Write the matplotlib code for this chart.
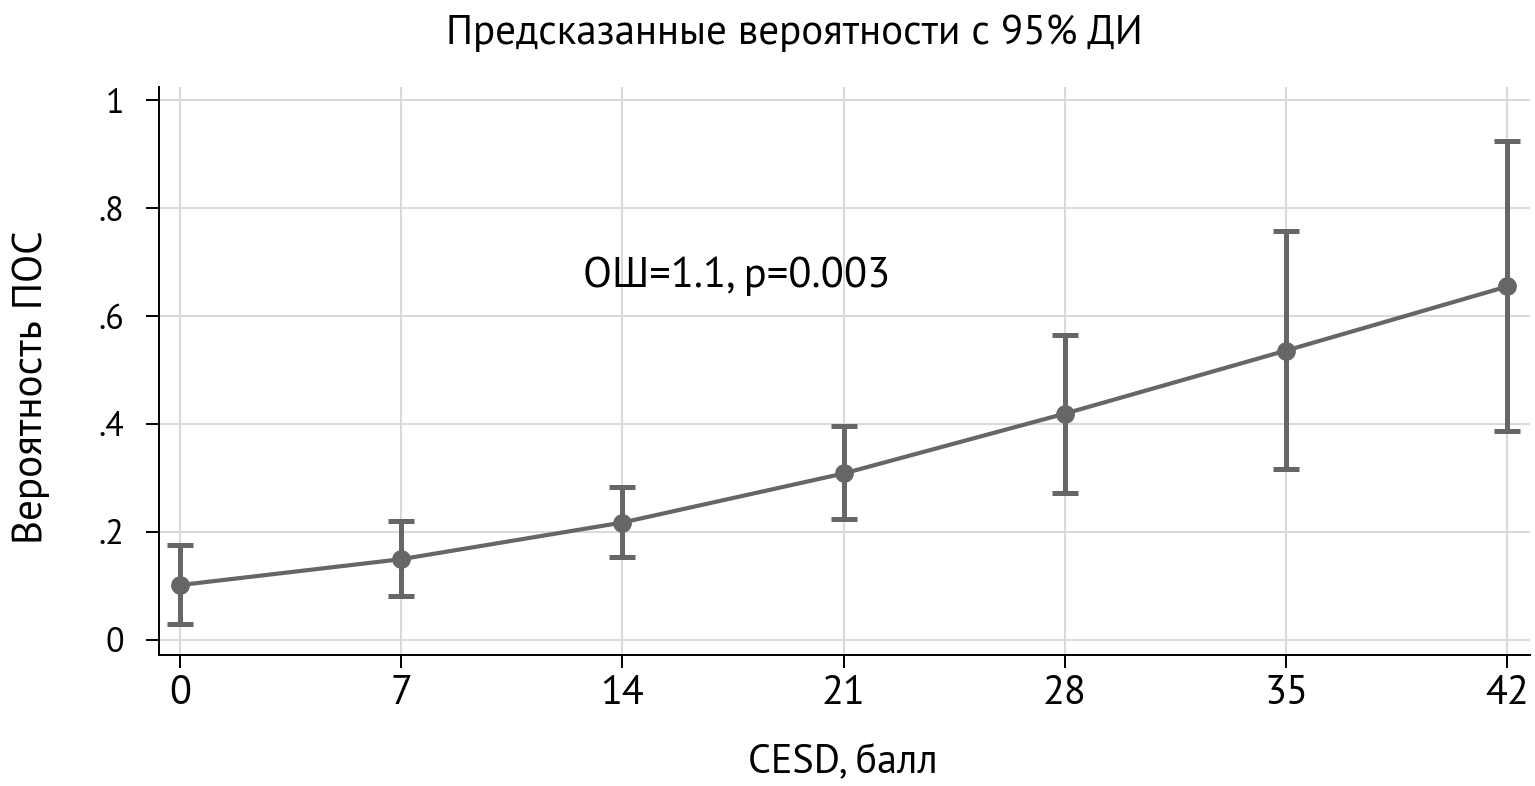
import matplotlib
matplotlib.use("Agg")
import matplotlib.pyplot as plt
import numpy as np

# ---- data ----
cesd = [0, 7, 14, 21, 28, 35, 42]
prob = [0.101, 0.149, 0.217, 0.308, 0.419, 0.536, 0.655]
ci_lo = [0.028, 0.081, 0.153, 0.223, 0.272, 0.317, 0.386]
ci_hi = [0.175, 0.219, 0.283, 0.396, 0.565, 0.758, 0.925]
xticks = [0, 7, 14, 21, 28, 35, 42]
yticks = [0, 0.2, 0.4, 0.6, 0.8, 1.0]
ytick_labels = ["0", ".2", ".4", ".6", ".8", "1"]
title = "Предсказанные вероятности с 95% ДИ"
xlabel = "CESD, балл"
ylabel = "Вероятность ПОС"
note = "ОШ=1.1, p=0.003"

plt.rcParams['font.family'] = ['PT Sans', 'Open Sans', 'DejaVu Sans']
plt.rcParams['font.weight'] = 'normal'

W, H = 1535, 786
fig = plt.figure(figsize=(W / 100, H / 100), dpi=100)
ax = fig.add_axes([159 / W, 1 - 655.3 / H, (1530 - 159) / W, (655.3 - 87) / H])

col = '#666666'
p = np.array(prob)
yerr = [p - np.array(ci_lo), np.array(ci_hi) - p]
ax.errorbar(cesd, prob, yerr=yerr, fmt='-o', color=col, lw=3.0, ms=12.5,
            elinewidth=3.6, capsize=9.4, capthick=3.6, zorder=3)

ax.set_xlim(-0.665, 42.72)
ax.set_ylim(-0.0293, 1.025)
ax.set_xticks(xticks)
ax.set_xticklabels([str(v) for v in xticks])
ax.set_yticks(yticks)
ax.set_yticklabels(ytick_labels)

ax.grid(True, color='#dadada', lw=1.5, zorder=0)
ax.set_axisbelow(True)
for s in ['top', 'right']:
    ax.spines[s].set_visible(False)
for s in ['left', 'bottom']:
    ax.spines[s].set_linewidth(1.4)
    ax.spines[s].set_color('black')

ax.tick_params(axis='x', length=9.4, width=1.4, pad=4.5, labelsize=29, colors='black')
ax.tick_params(axis='y', length=9.4, width=1.4, pad=16, labelsize=24.5, colors='black')

ax.text(12.75, 0.654, note, fontsize=30.5, ha='left', va='baseline')

fig.text(794 / W, 1 - 44 / H, title, fontsize=29.5, ha='center', va='baseline')
fig.text(843 / W, 1 - 772 / H, xlabel, fontsize=29, ha='center', va='baseline')
fig.text(31 / W, 1 - 387.5 / H, ylabel, fontsize=29.7, ha='center', va='center', rotation=90)

fig.savefig("out.png", dpi=100)
